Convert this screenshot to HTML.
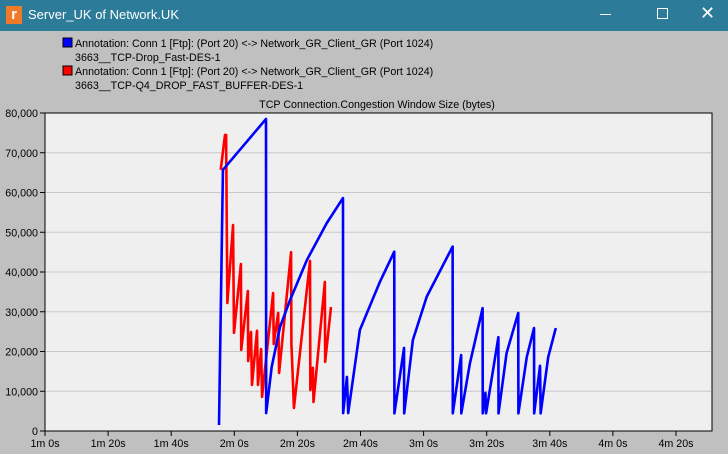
<!DOCTYPE html>
<html><head><meta charset="utf-8">
<style>
body{margin:0;width:728px;height:454px;overflow:hidden;background:#c0c0c0;font-family:"Liberation Sans",sans-serif;}
#titlebar{position:absolute;left:0;top:0;width:728px;height:31px;background:#2b7b99;color:#fff;font-size:13px;}
#win{position:absolute;left:0;top:31px;width:728px;height:423px;background:#c0c0c0;}
</style></head>
<body>
<div id="titlebar">
  <div style="position:absolute;left:6px;top:6px;width:16px;height:18px;background:#f07a2a;color:#fff;font-weight:bold;font-size:15px;line-height:18px;text-align:center;">r</div>
  <div style="position:absolute;left:28px;top:7px;">Server_UK of Network.UK</div>
  <div style="position:absolute;left:600px;top:14px;width:11px;height:1px;background:#fff;"></div>
  <div style="position:absolute;left:657px;top:8px;width:9px;height:9px;border:1px solid #fff;"></div>
  <div style="position:absolute;left:700px;top:3px;font-size:18px;">✕</div>
</div>
<div id="win"></div>
<svg id="chart" width="728" height="454" style="position:absolute;left:0;top:0" font-family="Liberation Sans, sans-serif" font-size="10.7">
  <g>
    <rect x="63" y="38" width="9" height="9" fill="#0000ff" stroke="#000"/>
    <text x="75" y="47">Annotation: Conn 1 [Ftp]: (Port 20) &lt;-&gt; Network_GR_Client_GR (Port 1024)</text>
    <text x="75" y="61">3663__TCP-Drop_Fast-DES-1</text>
    <rect x="63" y="66" width="9" height="9" fill="#ff0000" stroke="#000"/>
    <text x="75" y="75">Annotation: Conn 1 [Ftp]: (Port 20) &lt;-&gt; Network_GR_Client_GR (Port 1024)</text>
    <text x="75" y="89">3663__TCP-Q4_DROP_FAST_BUFFER-DES-1</text>
  </g>
  <text x="377" y="108" text-anchor="middle">TCP Connection.Congestion Window Size (bytes)</text>
  <rect x="45" y="113" width="667" height="318" fill="#efefef" stroke="#000"/>
  <g id="grid"></g>
  <g id="axes"></g>
  <g id="series"></g>
</svg>
<script>
const yTicks=[0,10000,20000,30000,40000,50000,60000,70000,80000];
const xTicks=[60,80,100,120,140,160,180,200,220,240,260];
const xTickLabels=["1m 0s","1m 20s","1m 40s","2m 0s","2m 20s","2m 40s","3m 0s","3m 20s","3m 40s","4m 0s","4m 20s"];
const blueTimes=[115.15,116.4,130.05,130.1,131.85,134.5,137.7,143.0,149.3,154.45,154.5,155.7,156.1,159.8,166.2,170.7,170.75,173.8,173.85,176.6,181.0,189.2,189.25,191.9,191.95,194.7,198.7,198.75,199.6,199.8,203.7,203.75,206.3,210.0,210.05,212.7,215.0,215.05,216.9,217.1,219.5,221.9];
const blueValues=[1500,65700,78500,4500,16100,26200,33000,43000,52300,58600,4500,13600,4500,25400,37600,45100,4450,20900,4450,22900,33800,46400,4450,19100,4450,17100,30900,4450,9600,4450,23600,4450,19600,29700,4450,18600,25900,4450,16400,4450,18600,25900];
const redTimes=[115.7,117.05,117.4,117.8,119.6,119.9,122.1,122.2,124.3,124.4,125.3,125.6,127.2,127.5,128.5,128.8,132.3,132.5,133.9,134.2,138.0,138.1,138.6,138.9,144.0,144.1,144.9,145.1,148.7,148.8,150.65];
const redValues=[65700,74500,74500,32200,51800,24700,42000,20400,35200,17600,24900,11600,25200,11600,20600,8600,34700,21900,29700,14600,45000,21900,12100,5800,42800,10300,15900,7300,37500,17400,31200];
const NS="http://www.w3.org/2000/svg";
function xS(s){return 45+(s-60)*3.155;}
function yS(v){return 431-v*318/80000;}
const grid=document.getElementById('grid'),axes=document.getElementById('axes'),series=document.getElementById('series');
function mk(t,a,p){const e=document.createElementNS(NS,t);for(const k in a)e.setAttribute(k,a[k]);p.appendChild(e);return e;}
yTicks.forEach(v=>{
  if(v>0&&v<80000){const g=mk('line',{x1:46,x2:711,y1:yS(v),y2:yS(v),stroke:'#c8c8c8'},grid);
  
  }
  const t=mk('line',{x1:40,x2:45,y1:yS(v),y2:yS(v),stroke:'#000'},axes);
  
  
  const l=mk('text',{x:38,y:yS(v)+4,'text-anchor':'end'},axes);
  l.textContent=v.toLocaleString('en-US');
  
  
});
xTicks.forEach((s,i)=>{
  const t=mk('line',{x1:xS(s),x2:xS(s),y1:431,y2:436,stroke:'#000'},axes);
  
  
  const l=mk('text',{x:xS(s),y:447,'text-anchor':'middle'},axes);
  l.textContent=xTickLabels[i];
  
  
});
function line(ts,vs,col,name){
  const p=mk('polyline',{points:ts.map((t,i)=>xS(t)+','+yS(vs[i])).join(' '),fill:'none',stroke:col,'stroke-width':2.6,'stroke-linejoin':'round'},series);
  
  
}
line(redTimes,redValues,'#ff0000','series-q4-drop-fast-buffer');
line(blueTimes,blueValues,'#0000ff','series-drop-fast');
</script>
</body></html>
